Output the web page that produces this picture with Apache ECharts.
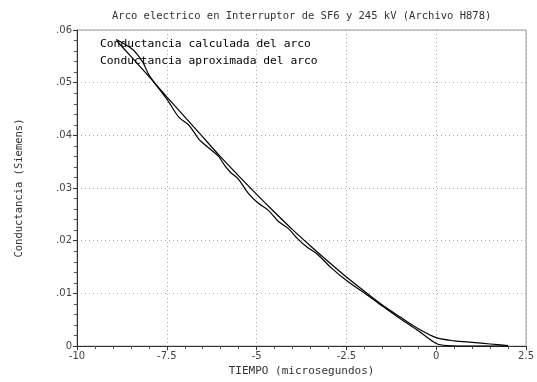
<!DOCTYPE html>
<html>
<head>
<meta charset="utf-8">
<script src="https://cdn.jsdelivr.net/npm/echarts@6/dist/echarts.min.js"></script>
<style>html,body{margin:0;padding:0;background:#fff}#c{width:537px;height:382px}</style>
</head>
<body>
<div id="c"></div>
<script>
var titleText = 'Arco electrico en Interruptor de SF6 y 245 kV (Archivo H878)';
var xName = 'TIEMPO (microsegundos)';
var yName = 'Conductancia (Siemens)';
var seriesNames = ['Conductancia calculada del arco', 'Conductancia aproximada del arco'];
var xTicks = [-10, -7.5, -5, -2.5, 0, 2.5];
var yTicks = [0, 0.01, 0.02, 0.03, 0.04, 0.05, 0.06];

var calcX = [-8.91, -8.45, -8.17, -7.99, -7.48, -7.16, -6.88, -6.61, -6.33, -6.06, -5.87, -5.73, -5.51, -5.23, -4.95, -4.68, -4.40, -4.13, -3.85, -3.58, -3.30, -2.93, -2.47, -2.0, -1.5, -1.0, -0.5, 0.0, 0.3, 1.0, 2.0];
var calcY = [0.0582, 0.0563, 0.0539, 0.0514, 0.0467, 0.0434, 0.0419, 0.0393, 0.0376, 0.0360, 0.0341, 0.0330, 0.0317, 0.0290, 0.0271, 0.0258, 0.0237, 0.0224, 0.0203, 0.0187, 0.0174, 0.0149, 0.0123, 0.0101, 0.0076, 0.0052, 0.0029, 0.0005, 0.0001, 0.0, 0.0];

var aproxX = [-8.9, -8.5, -8.0, -7.5, -7.0, -6.5, -6.0, -5.5, -5.0, -4.5, -4.0, -3.5, -3.0, -2.5, -2.0, -1.5, -1.0, -0.5, 0.0, 0.5, 1.0, 1.5, 2.0];
var aproxY = [0.0580, 0.0550, 0.0512, 0.0473, 0.0435, 0.0397, 0.0359, 0.0323, 0.0288, 0.0254, 0.0221, 0.0190, 0.0160, 0.0131, 0.0104, 0.0078, 0.0055, 0.0033, 0.0016, 0.0010, 0.0007, 0.0004, 0.0001];

function pairs(xs, ys){ return xs.map(function(x,i){ return [x, ys[i]]; }); }

var mono = 'DejaVu Sans Mono';
var chart = echarts.init(document.getElementById('c'));
chart.setOption({
  animation: false,
  backgroundColor: '#fff',
  title: {
    text: titleText, left: 107, top: 6,
    textStyle: {fontFamily: mono, fontSize: 10.5, fontWeight: 'normal', color: '#333'}
  },
  legend: {
    data: seriesNames, orient: 'vertical', left: 90, top: 34, icon: 'none',
    itemWidth: 0, itemHeight: 10, itemGap: 6,
    textStyle: {fontFamily: mono, fontSize: 11.3, color: '#000'}
  },
  grid: {left: 77, right: 6, top: 30, bottom: 29, show: true, borderColor: '#999', borderWidth: 1},
  xAxis: {
    type: 'value', min: xTicks[0], max: xTicks[xTicks.length-1], interval: 2.5,
    name: xName, nameLocation: 'middle', nameGap: 18,
    nameTextStyle: {fontFamily: mono, fontSize: 11, color: '#333'},
    axisLine: {onZero: false, lineStyle: {color: '#333', width: 1}},
    axisTick: {show: true, length: 4, inside: false, lineStyle: {color: '#333'}},
    minorTick: {show: true, splitNumber: 5, length: 3, lineStyle: {color: '#555'}},
    axisLabel: {fontFamily: 'DejaVu Sans', fontSize: 10, color: '#444', margin: 5,
      formatter: function(v){ return String(v); }},
    splitLine: {show: true, lineStyle: {color: '#aaa', type: [1, 3], width: 1}}
  },
  yAxis: {
    type: 'value', min: yTicks[0], max: yTicks[yTicks.length-1], interval: 0.01,
    name: yName, nameLocation: 'middle', nameGap: 52,
    nameTextStyle: {fontFamily: mono, fontSize: 10.5, color: '#333'},
    axisLine: {show: true, onZero: false, lineStyle: {color: '#333', width: 1}},
    axisTick: {show: true, length: 4, inside: false, lineStyle: {color: '#333'}},
    minorTick: {show: true, splitNumber: 5, length: 3, lineStyle: {color: '#555'}},
    axisLabel: {fontFamily: 'DejaVu Sans', fontSize: 10, color: '#444', margin: 5,
      formatter: function(v){ return v === 0 ? '0' : v.toFixed(2).replace(/^0/, ''); }},
    splitLine: {show: true, lineStyle: {color: '#aaa', type: [1, 3], width: 1}}
  },
  series: [
    {name: seriesNames[0], type: 'line', data: pairs(calcX, calcY), showSymbol: false,
      smooth: 0.3, lineStyle: {color: '#000', width: 1.2}, itemStyle: {color: '#000'}},
    {name: seriesNames[1], type: 'line', data: pairs(aproxX, aproxY), showSymbol: false,
      smooth: 0.3, lineStyle: {color: '#000', width: 1.2}, itemStyle: {color: '#000'}}
  ]
});
</script>
</body>
</html>
